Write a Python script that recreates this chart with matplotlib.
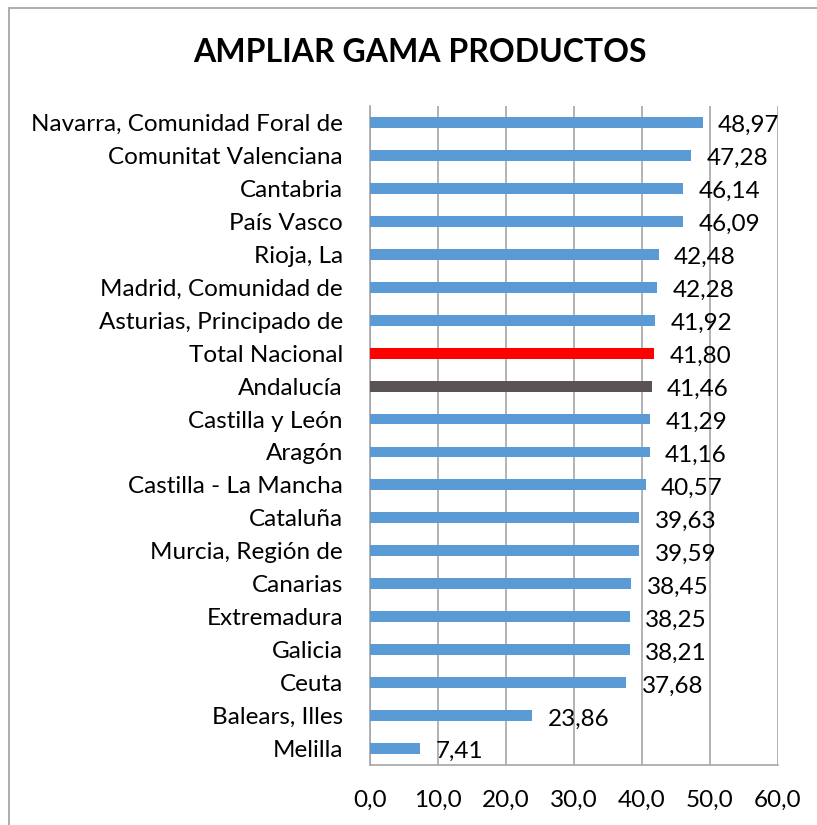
import matplotlib.pyplot as plt
from matplotlib.patches import Rectangle

plt.rcParams['font.family'] = ['Lato', 'DejaVu Sans']

regiones = ['Navarra, Comunidad Foral de', 'Comunitat Valenciana', 'Cantabria', 'País Vasco',
            'Rioja, La', 'Madrid, Comunidad de', 'Asturias, Principado de', 'Total Nacional',
            'Andalucía', 'Castilla y León', 'Aragón', 'Castilla - La Mancha', 'Cataluña',
            'Murcia, Región de', 'Canarias', 'Extremadura', 'Galicia', 'Ceuta',
            'Balears, Illes', 'Melilla']
valores = [48.97, 47.28, 46.14, 46.09, 42.48, 42.28, 41.92, 41.80, 41.46, 41.29,
           41.16, 40.57, 39.63, 39.59, 38.45, 38.25, 38.21, 37.68, 23.86, 7.41]
xticks = [0, 10, 20, 30, 40, 50, 60]

colores = []
for r in regiones:
    if r == 'Total Nacional':
        colores.append('#FF0000')
    elif r == 'Andalucía':
        colores.append('#5A5257')
    else:
        colores.append('#5B9BD5')

fig = plt.figure(figsize=(8.17, 8.25), dpi=100)
ax = fig.add_axes([370/817, 1 - 765/825, (777.5 - 370)/817, (765 - 106)/825])

pos = list(range(len(regiones)))[::-1]
ax.barh(pos, valores, height=0.33, color=colores, zorder=3)
ax.set_ylim(-0.5, len(regiones) - 0.5)
ax.set_xlim(0, 60)

for p, v in zip(pos, valores):
    ax.text(v + 2.3, p - 0.1, f'{v:.2f}'.replace('.', ','), va='center', ha='left',
            fontsize=17.5, color='#000000', zorder=4)

ax.set_yticks(pos)
ax.set_yticklabels(regiones, fontsize=17.5)
ax.set_xticks(xticks)
ax.set_xticklabels([f'{t:.1f}'.replace('.', ',') for t in xticks], fontsize=17.5)
ax.tick_params(axis='both', length=0)
ax.tick_params(axis='y', pad=19.5)
ax.tick_params(axis='x', pad=18)

ax.grid(axis='x', color='#A6A6A6', linewidth=1.2, zorder=0)
for s in ['top', 'right']:
    ax.spines[s].set_visible(False)
ax.spines['left'].set_color('#A6A6A6')
ax.spines['bottom'].set_color('#A6A6A6')
ax.spines['left'].set_linewidth(1.2)
ax.spines['bottom'].set_linewidth(1.2)

fig.text(420/817, 1 - 52/825, 'AMPLIAR GAMA PRODUCTOS', ha='center', va='center',
         fontsize=23, fontweight='bold')

fig.patches.append(Rectangle((9/817, -0.1), 1.2, 1 - 8/825 + 0.1, transform=fig.transFigure,
                             fill=False, edgecolor='#A0A0A0', linewidth=1.2))

fig.savefig('out.png', dpi=100)
